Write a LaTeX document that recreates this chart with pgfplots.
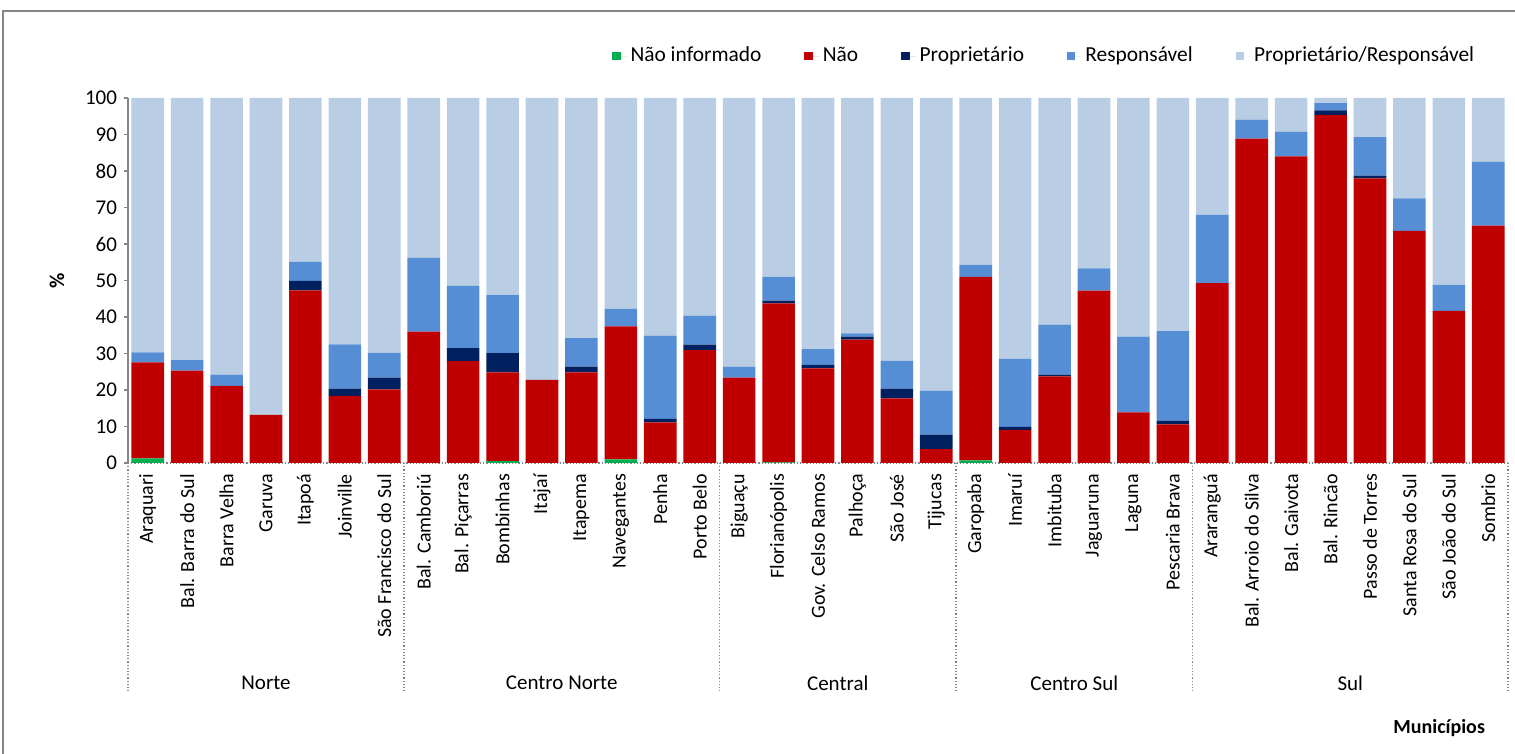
\documentclass[border=0pt]{standalone}
\usepackage{fontspec}
\setmainfont{Carlito}
\usepackage{pgfplots}
\usepackage{pgfplotstable}
\pgfplotsset{compat=1.18}
\definecolor{cNI}{HTML}{00B050}
\definecolor{cNao}{HTML}{C00000}
\definecolor{cProp}{HTML}{002060}
\definecolor{cResp}{HTML}{558ED5}
\definecolor{cPR}{HTML}{B9CDE5}
\definecolor{axgray}{HTML}{868686}

\pgfplotstableread{
x NI Nao Prop Resp PR
0 1.3 26.3 0 2.7 69.7
1 0 25.3 0 2.9 71.8
2 0 21.1 0 3.1 75.8
3 0 13.2 0 0 86.8
4 0 47.3 2.6 5.2 44.9
5 0 18.4 2.0 12.1 67.5
6 0 20.2 3.2 6.8 69.8
7 0 36.0 0 20.2 43.8
8 0 27.9 3.6 17.0 51.5
9 0.5 24.3 5.3 15.9 54.0
10 0 22.8 0 0 77.2
11 0 24.8 1.6 7.8 65.8
12 1.0 36.4 0 4.8 57.8
13 0 11.1 1.0 22.8 65.1
14 0 30.9 1.5 8.0 59.6
15 0 23.4 0 3.0 73.6
16 0.2 43.5 0.8 6.5 49.0
17 0 25.9 1.0 4.3 68.8
18 0 33.8 0.8 0.9 64.5
19 0 17.7 2.7 7.6 72.0
20 0 3.8 4.0 12.0 80.2
21 0.7 50.3 0 3.3 45.7
22 0 9.1 0.8 18.6 71.5
23 0 23.7 0.5 13.7 62.1
24 0 47.2 0 6.1 46.7
25 0 13.9 0 20.7 65.4
26 0 10.6 1.0 24.5 63.9
27 0 49.3 0 18.7 32.0
28 0 88.9 0 5.2 5.9
29 0 84.0 0 6.8 9.2
30 0 95.4 1.2 2.0 1.4
31 0 78.0 0.7 10.6 10.7
32 0 63.6 0 8.9 27.5
33 0 41.7 0 7.1 51.2
34 0 65.0 0 17.5 17.5
}\datatable

\begin{document}
\begin{tikzpicture}
\useasboundingbox (-64pt,-145.5pt) rectangle (693.5pt,231.5pt);
\begin{axis}[
  at={(0pt,0pt)}, anchor=south west,
  scale only axis, width=690pt, height=182.5pt,
  ybar stacked, bar width=16.3pt,
  xmin=-0.5, xmax=34.5, ymin=0, ymax=100,
  clip=false,
  axis x line*=bottom, axis y line*=left,
  x axis line style={axgray, densely dotted, line width=0.6pt},
  y axis line style={axgray, line width=1pt},
  xtick={0,...,34},
  xticklabels={Araquari,Bal. Barra do Sul,Barra Velha,Garuva,Itapoá,Joinville,São Francisco do Sul,Bal. Camboriú,Bal. Piçarras,Bombinhas,Itajaí,Itapema,Navegantes,Penha,Porto Belo,Biguaçu,Florianópolis,Gov. Celso Ramos,Palhoça,São José,Tijucas,Garopaba,Imaruí,Imbituba,Jaguaruna,Laguna,Pescaria Brava,Araranguá,Bal. Arroio do Silva,Bal. Gaivota,Bal. Rincão,Passo de Torres,Santa Rosa do Sul,São João do Sul,Sombrio},
  xticklabel style={rotate=90, anchor=east, font=\fontsize{10}{12}\selectfont},
  x tick style={draw=none},
  ytick={0,10,...,100},
  y tick style={axgray, line width=0.8pt},
  tick align=outside, major tick length=2pt,
  yticklabel style={font=\fontsize{10.5}{12}\selectfont},
  /pgf/number format/assume math mode=true,
  ylabel={\textbf{\%}},
  ylabel style={at={(axis description cs:-0.0514,0.5)}, anchor=center, font=\fontsize{10.5}{12}\selectfont},
  xlabel={\textbf{Municípios}},
  xlabel style={at={(axis description cs:1,0)}, anchor=east, xshift=-8pt, yshift=-132.5pt, font=\fontsize{10}{12}\selectfont},
  legend columns=5,
  legend style={at={(0.983,1.115)}, anchor=east, draw=none, fill=none,
    font=\fontsize{10.7}{12}\selectfont,
    /tikz/every even column/.append style={column sep=19.5pt}},
  legend image code/.code={\fill[#1] (0pt,-2.1pt) rectangle (4.2pt,2.1pt); \path (0pt,0pt) -- (7.2pt,0pt);},
]
\addplot[fill=cNI, draw=none] table[x=x, y=NI] {\datatable};
\addplot[fill=cNao, draw=none] table[x=x, y=Nao] {\datatable};
\addplot[fill=cProp, draw=none] table[x=x, y=Prop] {\datatable};
\addplot[fill=cResp, draw=none] table[x=x, y=Resp] {\datatable};
\addplot[fill=cPR, draw=none] table[x=x, y=PR] {\datatable};
\legend{Não informado, Não, Proprietário, Responsável, Proprietário/Responsável}
\pgfplotsinvokeforeach{-0.5,6.5,14.5,20.5,26.5,34.5}{
  \draw[axgray, densely dotted, line width=0.6pt] (axis cs:#1,0) -- ++(0pt,-115pt);
}
\node[font=\fontsize{10.5}{12}\selectfont] at ([yshift=-110pt]axis cs:3,0) {Norte};
\node[font=\fontsize{10.5}{12}\selectfont] at ([yshift=-110pt]axis cs:10.5,0) {Centro Norte};
\node[font=\fontsize{10.5}{12}\selectfont] at ([yshift=-110pt]axis cs:17.5,0) {Central};
\node[font=\fontsize{10.5}{12}\selectfont] at ([yshift=-110pt]axis cs:23.5,0) {Centro Sul};
\node[font=\fontsize{10.5}{12}\selectfont] at ([yshift=-110pt]axis cs:30.5,0) {Sul};
\end{axis}
\draw[axgray, line width=0.8pt] (-62.5pt,-146pt) -- (-62.5pt,226pt) -- (694pt,226pt);
\end{tikzpicture}
\end{document}
